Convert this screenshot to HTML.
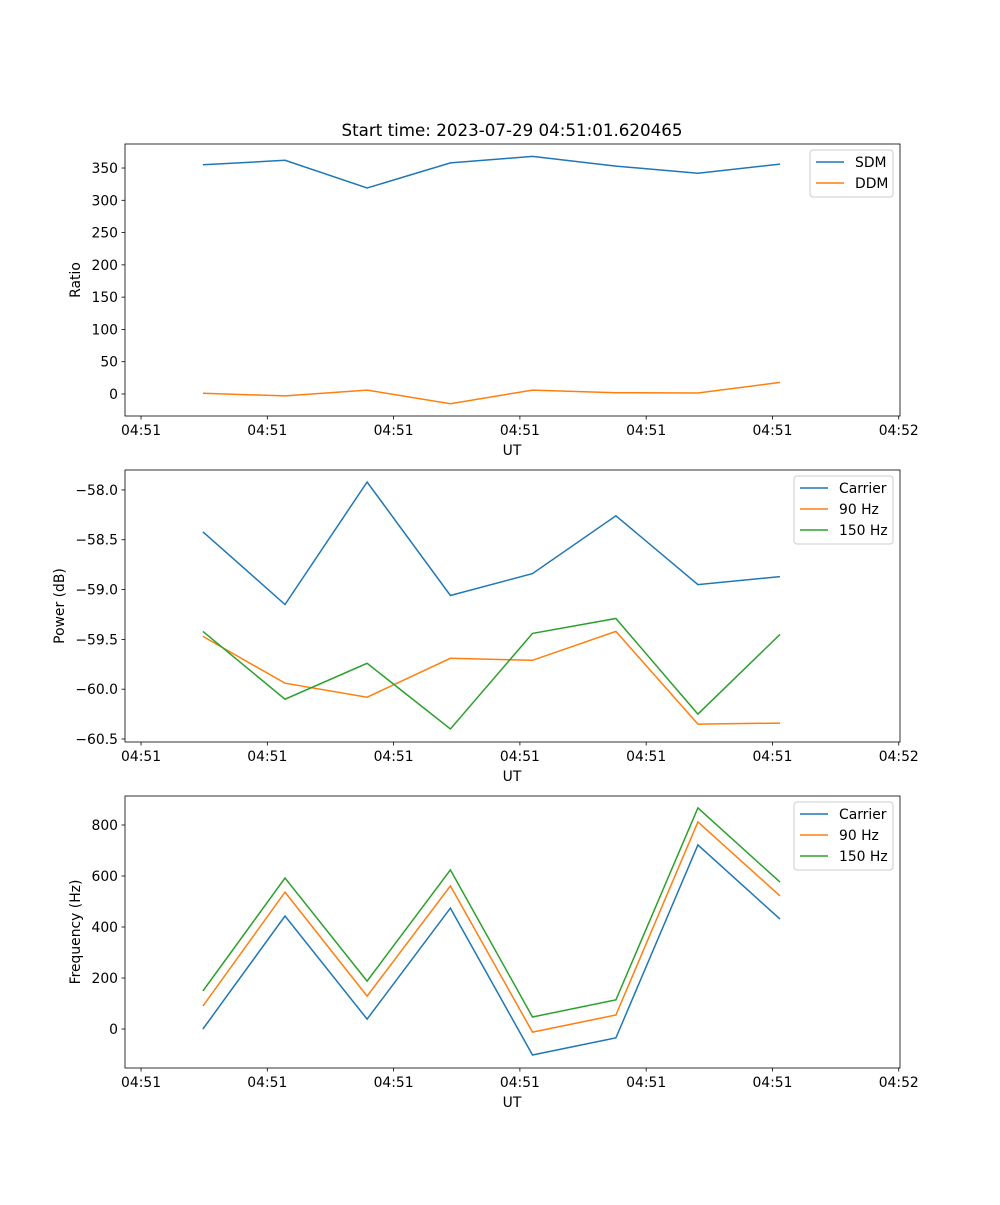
<!DOCTYPE html>
<html><head><meta charset="utf-8"><style>
body{margin:0;background:#fff}
svg text{font-family:"DejaVu Sans","Liberation Sans",sans-serif;fill:#000}
</style></head><body>
<svg id="fig" width="1000" height="1200" xmlns="http://www.w3.org/2000/svg">
<rect width="1000" height="1200" fill="#fff"/>
<text x="512" y="136" font-size="16.7" text-anchor="middle">Start time: 2023-07-29 04:51:01.620465</text>
</svg>
<script>
// time in seconds after 04:51:00
const times = [4.9, 11.4, 17.9, 24.5, 31.0, 37.6, 44.1, 50.6];
const xTickVals = [0, 10, 20, 30, 40, 50, 60];
const xTickLabels = ["04:51","04:51","04:51","04:51","04:51","04:51","04:52"];
const sdm = [355, 362, 319, 358, 368, 353, 342, 356];
const ddm = [1, -3, 6, -15, 6, 2, 1.5, 18];
const ratioTicks = [0, 50, 100, 150, 200, 250, 300, 350];
const powCarrier = [-58.42, -59.15, -57.92, -59.06, -58.84, -58.26, -58.95, -58.87];
const pow90 = [-59.47, -59.94, -60.08, -59.69, -59.71, -59.42, -60.35, -60.34];
const pow150 = [-59.42, -60.10, -59.74, -60.40, -59.44, -59.29, -60.25, -59.45];
const powTicks = [-60.5, -60.0, -59.5, -59.0, -58.5, -58.0];
const freqCarrier = [0, 443, 39, 474, -102, -35, 722, 431];
const freq90 = [90, 537, 129, 561, -12, 55, 812, 522];
const freq150 = [149, 592, 188, 624, 47, 114, 867, 576];
const freqTicks = [0, 200, 400, 600, 800];

const NS = "http://www.w3.org/2000/svg";
const svg = document.getElementById('fig');
const C = ["#1f77b4", "#ff7f0e", "#2ca02c"];
function mk(tag, attrs, parent) {
  const e = document.createElementNS(NS, tag);
  for (const k in attrs) e.setAttribute(k, attrs[k]);
  (parent || svg).appendChild(e);
  return e;
}
const L = 125, R = 900, xmin = -1.27, xmax = 60.1;
const xs = t => L + (t - xmin) / (xmax - xmin) * (R - L);

function panel(name, top, bot, ymin, ymax, yTicks, fmt, ylabel, series, names, leg) {
  const g = mk('g', {});
  
  
  const ys = v => bot - (v - ymin) / (ymax - ymin) * (bot - top);
  series.forEach((s, i) => {
    const p = mk('polyline', {points: s.map((v, j) => xs(times[j]).toFixed(1) + ',' + ys(v).toFixed(1)).join(' '), fill: 'none', stroke: C[i], 'stroke-width': 1.5}, g);
    
    
  });
  const fr = mk('rect', {x: L, y: top, width: R - L, height: bot - top, fill: 'none', stroke: '#000', 'stroke-width': 0.8}, g);
  
  
  xTickVals.forEach((t, i) => {
    const x = xs(t);
    mk('line', {x1: x, x2: x, y1: bot, y2: bot + 3.5, stroke: '#000', 'stroke-width': 0.8}, g);
    const tx = mk('text', {x: x, y: bot + 19, 'font-size': 13.9, 'text-anchor': 'middle'}, g);
    tx.textContent = xTickLabels[i];
    
    
  });
  yTicks.forEach(v => {
    const y = ys(v);
    mk('line', {x1: L - 3.5, x2: L, y1: y, y2: y, stroke: '#000', 'stroke-width': 0.8}, g);
    const tx = mk('text', {x: L - 7, y: y + 5, 'font-size': 13.9, 'text-anchor': 'end'}, g);
    tx.textContent = fmt(v).replace('-', '\u2212');
    
    
  });
  const xl = mk('text', {x: 512, y: bot + 39, 'font-size': 13.9, 'text-anchor': 'middle'}, g);
  xl.textContent = 'UT';
  
  
  const yx = leg.yl, yy = (top + bot) / 2;
  const yl = mk('text', {x: yx, y: yy, 'font-size': 13.9, 'text-anchor': 'middle', transform: 'rotate(-90 ' + yx + ' ' + yy + ')'}, g);
  yl.textContent = ylabel;
  
  
  const lg = mk('g', {}, g);
  
  
  mk('rect', {x: leg.x, y: top + 6, width: 893 - leg.x, height: names.length * 21 + 5, rx: 3, fill: '#fff', 'fill-opacity': 0.8, stroke: '#ccc'}, lg);
  names.forEach((n, i) => {
    const y = top + 18 + i * 21;
    mk('line', {x1: leg.x + 6, x2: leg.x + 34, y1: y, y2: y, stroke: C[i], 'stroke-width': 1.5}, lg);
    const t = mk('text', {x: leg.x + 45, y: y + 5, 'font-size': 13.9}, lg);
    t.textContent = n;
    
    
  });
}
panel('ratio', 144, 416, -34.1, 387.2, ratioTicks, v => String(v), 'Ratio', [sdm, ddm], ['SDM', 'DDM'], {x: 810, yl: 80});
panel('power', 470, 742, -60.53, -57.80, powTicks, v => v.toFixed(1), 'Power (dB)', [powCarrier, pow90, pow150], ['Carrier', '90 Hz', '150 Hz'], {x: 794, yl: 64});
panel('frequency', 796, 1068, -152.9, 913.7, freqTicks, v => String(v), 'Frequency (Hz)', [freqCarrier, freq90, freq150], ['Carrier', '90 Hz', '150 Hz'], {x: 794, yl: 80});
</script>
</body></html>
